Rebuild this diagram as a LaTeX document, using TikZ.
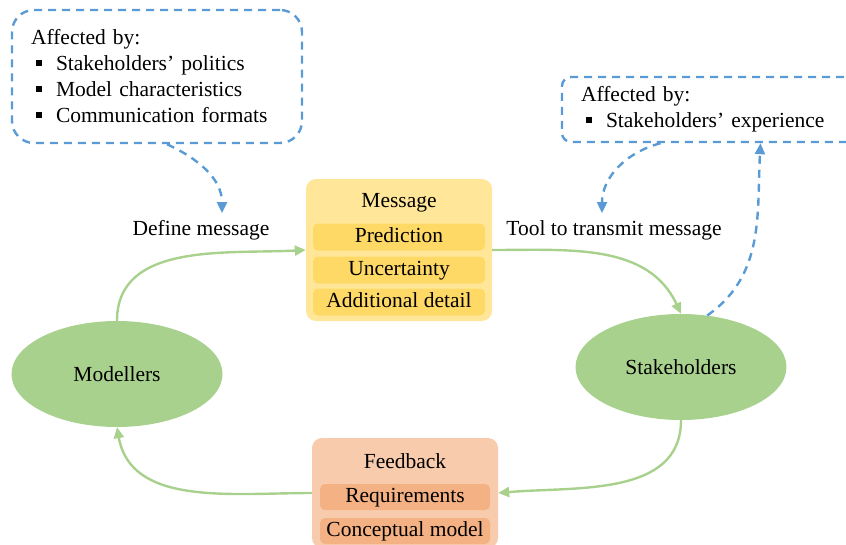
\documentclass[tikz,border=0pt]{standalone}
\usepackage{fontspec}
\setmainfont{Liberation Serif}
\usetikzlibrary{arrows.meta,shapes.geometric}

\definecolor{leaf}{HTML}{A9D18E}
\definecolor{sky}{HTML}{5B9BD5}
\definecolor{msgfill}{HTML}{FFE699}
\definecolor{msgitem}{HTML}{FFD966}
\definecolor{fbfill}{HTML}{F8CBAD}
\definecolor{fbitem}{HTML}{F4B183}

\newcommand{\sqbullet}{\hspace*{5pt}\rule[5pt]{6pt}{6pt}\hspace*{14pt}}

\begin{document}
\begin{tikzpicture}[x=1pt, y=-1pt,
    every node/.style = {font=\fontsize{21.5}{26}\selectfont},
    actor/.style = {ellipse, fill=leaf, minimum width=211pt, minimum height=106pt},
    msgbox/.style = {rectangle, rounded corners=10pt, fill=msgfill, minimum width=186pt, minimum height=142pt},
    msgitem/.style = {rectangle, rounded corners=5pt, fill=msgitem, minimum width=172pt, minimum height=27pt, inner sep=0pt, text height=14pt, text depth=4pt},
    fbbox/.style = {rectangle, rounded corners=10pt, fill=fbfill, minimum width=186pt, minimum height=110pt},
    fbitem/.style = {rectangle, rounded corners=5pt, fill=fbitem, minimum width=170pt, minimum height=26pt, inner sep=0pt, text height=14pt, text depth=4pt},
    note/.style = {draw=sky, line width=2.4pt, dash pattern=on 8pt off 6pt, align=left, inner xsep=19pt},
    flow/.style = {draw=leaf, line width=2.4pt, -{Triangle[length=11pt, width=10pt]}},
    hint/.style = {draw=sky, line width=2.4pt, dash pattern=on 8pt off 6pt, -{Triangle[length=11pt, width=10pt]}}]
    \useasboundingbox (0,0) rectangle (846,544);
    \clip (0,0) rectangle (846,544);

    % the two actors
    \node[actor] (modellers) at (117,374) {Modellers};
    \node[actor] (stakeholders) at (681,367) {Stakeholders};

    % message
    \node[msgbox] (message) at (399,250) {};
    \node (msgtitle) at (399,203) {Message};
    \node[msgitem] (prediction) at (399,237) {Prediction};
    \node[msgitem] (uncertainty) at (399,270) {Uncertainty};
    \node[msgitem] (detail) at (399,302) {Additional detail};

    % feedback
    \node[fbbox] (feedback) at (405,493) {};
    \node (fbtitle) at (405,461) {Feedback};
    \node[fbitem] (requirements) at (405,497) {Requirements};
    \node[fbitem] (concept) at (405,531) {Conceptual model};

    % labels on the arrows
    \node (define) at (201,230) {Define message};
    \node (transmit) at (614,230) {Tool to transmit message};

    % notes
    \node[note, rounded corners=22pt, text width=252pt, minimum height=133pt] (leftnote) at (157,76.5)
        {Affected by:\\ \sqbullet Stakeholders’ politics\\ \sqbullet Model characteristics\\ \sqbullet Communication formats};
    \node[note, rounded corners=9pt, text width=281pt, minimum height=65pt] (rightnote) at (721.5,109.5)
        {Affected by:\\ \sqbullet Stakeholders’ experience};
    \coordinate (lefttip) at (222,213);
    \coordinate (righttip) at (602,213);
    \coordinate (rightout) at ([xshift=-61pt]rightnote.south);
    \coordinate (rightin) at ([xshift=39pt]rightnote.south);

    \draw[flow] (modellers.north) to[out=90, in=183] (message.west);
    \draw[flow] (message.east) to[out=0, in=115] (stakeholders.north);
    \draw[flow] (stakeholders.south) to[out=-90, in=5] (feedback.east);
    \draw[flow] (feedback.west) to[out=180, in=-80] (modellers.south);

    \draw[hint] ([xshift=10pt]leftnote.south) to[out=-25, in=90] (lefttip);
    \draw[hint] (rightout) to[out=195, in=90] (righttip);
    \draw[hint] (stakeholders.63) to[out=35, in=-93] (rightin);
\end{tikzpicture}
\end{document}
